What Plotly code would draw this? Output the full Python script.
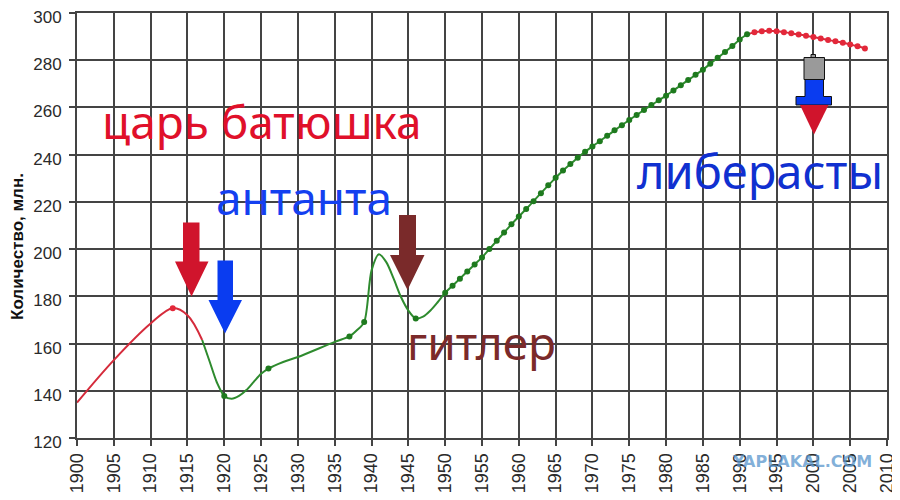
import plotly.graph_objects as go

# ---- data ----
red1_years = [1900, 1905, 1910, 1913, 1915, 1917]
red1_vals = [135.0, 153.0, 168.5, 175.0, 172.0, 161.5]

green_years = [1917, 1918, 1919, 1920, 1921, 1922, 1923, 1924, 1925, 1926, 1928, 1930,
               1935, 1937, 1938, 1939, 1940, 1941, 1942, 1943, 1944, 1945, 1946, 1947,
               1948, 1949] + list(range(1950, 1992))
green_vals = [161.5, 152.5, 143.5, 137.8, 136.6, 137.8, 140.3, 143.8, 147.2, 149.4, 152.2, 154.3,
              160.7, 163.0, 165.6, 169.1, 191.0, 197.8, 194.5, 187.5, 179.7, 174.0, 170.6, 171.4,
              174.0, 177.6,
              181.5, 184.5, 187.5, 190.5, 193.5, 196.5, 200.0, 203.5, 207.0, 210.5,
              213.8, 217.0, 220.3, 223.7, 227.0, 230.2, 233.3, 236.0, 238.7, 241.2,
              243.5, 245.7, 248.0, 250.3, 252.5, 254.7, 256.8, 258.9, 261.0, 263.0,
              265.0, 267.2, 269.4, 271.6, 273.8, 276.0, 278.5, 281.0, 283.5, 286.0,
              288.8, 291.0]

red2_years = list(range(1991, 2008))
red2_vals = [291.0, 291.8, 292.3, 292.5, 292.3, 291.9, 291.4, 290.9, 290.4, 289.8,
             289.2, 288.6, 288.0, 287.4, 286.7, 285.9, 285.0]

red1_marker_years = [1913]
green_marker_years = [1920, 1926, 1937, 1939, 1946] + list(range(1950, 1992))
red2_marker_years = list(range(1992, 2008))

x_ticks = list(range(1900, 2011, 5))
y_ticks = list(range(120, 301, 20))

# ---- page geometry: the page body has an 8px margin ----
OFF = 8
W, H = 892, 492
PL, PT, PW, PH = 77, 13, 810, 425          # plot area in window pixels
L, T = PL - OFF, PT - OFF
R = W - L - PW
B = H - T - PH
XR = (1900, 2010)
YR = (120, 300)


def dx(px):
    return XR[0] + (px - PL) / PW * (XR[1] - XR[0])


def dy(py):
    return YR[1] - (py - PT) / PH * (YR[1] - YR[0])


def paper_x(px):
    return (px - PL) / PW


def paper_y(py):
    return 1 - (py - PT) / PH


def poly(points):
    return "M " + " L ".join(f"{dx(a):.3f},{dy(b):.3f}" for a, b in points) + " Z"


def block_arrow(x0, x1, ytop, yhead, hx0, hx1, tipx, tipy):
    return poly([(x0, ytop), (x1, ytop), (x1, yhead), (hx1, yhead), (tipx, tipy),
                 (hx0, yhead), (x0, yhead)])


RED_LINE = "#d52b3b"
GREEN_LINE = "#2e8b2e"
GREEN_DOT = "#1e7a1e"
RED_DOT = "#e3283a"

fig = go.Figure()


def pick(years, vals, wanted):
    xs, ys = [], []
    for yv, v in zip(years, vals):
        if yv in wanted:
            xs.append(yv)
            ys.append(v)
    return xs, ys


fig.add_trace(go.Scatter(x=red1_years, y=red1_vals, mode="lines",
                         line=dict(color=RED_LINE, width=2, shape="spline", smoothing=1.0),
                         hoverinfo="skip", showlegend=False))
fig.add_trace(go.Scatter(x=green_years, y=green_vals, mode="lines",
                         line=dict(color=GREEN_LINE, width=2, shape="spline", smoothing=0.8),
                         hoverinfo="skip", showlegend=False))
fig.add_trace(go.Scatter(x=red2_years, y=red2_vals, mode="lines",
                         line=dict(color=RED_LINE, width=2, shape="spline", smoothing=1.0),
                         hoverinfo="skip", showlegend=False))

mx, my = pick(red1_years, red1_vals, red1_marker_years)
fig.add_trace(go.Scatter(x=mx, y=my, mode="markers", marker=dict(color=RED_DOT, size=6),
                         showlegend=False))
mx, my = pick(green_years, green_vals, green_marker_years)
fig.add_trace(go.Scatter(x=mx, y=my, mode="markers", marker=dict(color=GREEN_DOT, size=6),
                         showlegend=False))
mx, my = pick(red2_years, red2_vals, red2_marker_years)
fig.add_trace(go.Scatter(x=mx, y=my, mode="markers", marker=dict(color=RED_DOT, size=6),
                         showlegend=False))

shapes = []
# red arrow (царь)
shapes.append(dict(type="path", xref="x", yref="y", layer="above",
                   path=block_arrow(183, 199.5, 222.5, 261.5, 175, 208.5, 191.5, 296.5),
                   fillcolor="#d0142c", line=dict(width=0)))
# blue arrow (антанта)
shapes.append(dict(type="path", xref="x", yref="y", layer="above",
                   path=block_arrow(217.5, 233, 260.5, 300, 208.5, 242, 225, 333.5),
                   fillcolor="#0a3cf0", line=dict(width=0)))
# brown arrow (гитлер)
shapes.append(dict(type="path", xref="x", yref="y", layer="above",
                   path=block_arrow(399, 416, 215, 255, 390, 424.5, 407.5, 290),
                   fillcolor="#7a2a2a", line=dict(width=0)))
# tricolor arrow (либерасты)
shapes.append(dict(type="path", xref="x", yref="y", layer="above",
                   path=poly([(811, 54.5), (815.5, 54.5), (815.5, 57.5), (811, 57.5)]),
                   fillcolor="#999999", line=dict(color="#111111", width=1)))
shapes.append(dict(type="path", xref="x", yref="y", layer="above",
                   path=poly([(804, 57.5), (824.5, 57.5), (824.5, 79.5), (804, 79.5)]),
                   fillcolor="#9a9a9a", line=dict(color="#111111", width=1)))
shapes.append(dict(type="path", xref="x", yref="y", layer="above",
                   path=poly([(805, 79.5), (823.5, 79.5), (823.5, 96.5), (831.5, 96.5),
                              (831.5, 105), (796, 105), (796, 96.5), (805, 96.5)]),
                   fillcolor="#0a3cf0", line=dict(color="#111111", width=1)))
shapes.append(dict(type="path", xref="x", yref="y", layer="above",
                   path=poly([(800, 105), (828.5, 105), (814, 134.5)]),
                   fillcolor="#d0142c", line=dict(width=0)))

annotations = []
TXT_FONT = "Noto Sans"


def label(px, py, text, color, size=46):
    annotations.append(dict(x=dx(px), y=dy(py), xref="x", yref="y", text=text,
                            xanchor="center", yanchor="middle", showarrow=False,
                            font=dict(family=TXT_FONT, size=size, color=color)))


label(262, 121, "царь батюшка", "#e0102a")
label(304, 197, "антанта", "#1440f0")
label(481, 342, "гитлер", "#7b2a2a")
label(760, 171, "либерасты", "#1030d0", 47)

# y axis title
annotations.append(dict(x=paper_x(18), y=paper_y(247), xref="paper", yref="paper",
                        xanchor="center", yanchor="middle",
                        text="<b>Количество, млн.</b>", textangle=-90, showarrow=False,
                        font=dict(family="Liberation Sans", size=17, color="#111111")))
# watermark
annotations.append(dict(x=paper_x(802), y=paper_y(462), xref="paper", yref="paper",
                        xanchor="center", yanchor="middle",
                        text="<b>YAPLAKAL.COM</b>", showarrow=False,
                        font=dict(family="DejaVu Sans", size=16, color="rgba(90,150,205,0.75)")))

axis_common = dict(
    showgrid=True, gridcolor="#444444", gridwidth=2,
    showline=True, linecolor="#444444", linewidth=2, mirror=True,
    ticks="outside", ticklen=6, tickwidth=2, tickcolor="#444444",
    ticklabeloverflow="allow",
    zeroline=False, fixedrange=True, automargin=False,
)

fig.update_layout(
    width=W, height=H,
    margin=dict(l=L, r=R, t=T, b=B, autoexpand=False),
    paper_bgcolor="white", plot_bgcolor="white",
    xaxis=dict(range=list(XR), tickmode="array", tickvals=x_ticks,
               ticktext=[str(v) for v in x_ticks], tickangle=-90,
               tickfont=dict(family="Liberation Sans", size=18, color="#2a2a2a"),
               **axis_common),
    yaxis=dict(range=list(YR), tickmode="array", tickvals=y_ticks,
               ticktext=[str(v) for v in y_ticks], ticklabelstandoff=4, ticklabelshift=4,
               tickfont=dict(family="Liberation Sans", size=17, color="#2a2a2a"),
               **axis_common),
    shapes=shapes, annotations=annotations, showlegend=False,
)

fig.write_html("out.html")
